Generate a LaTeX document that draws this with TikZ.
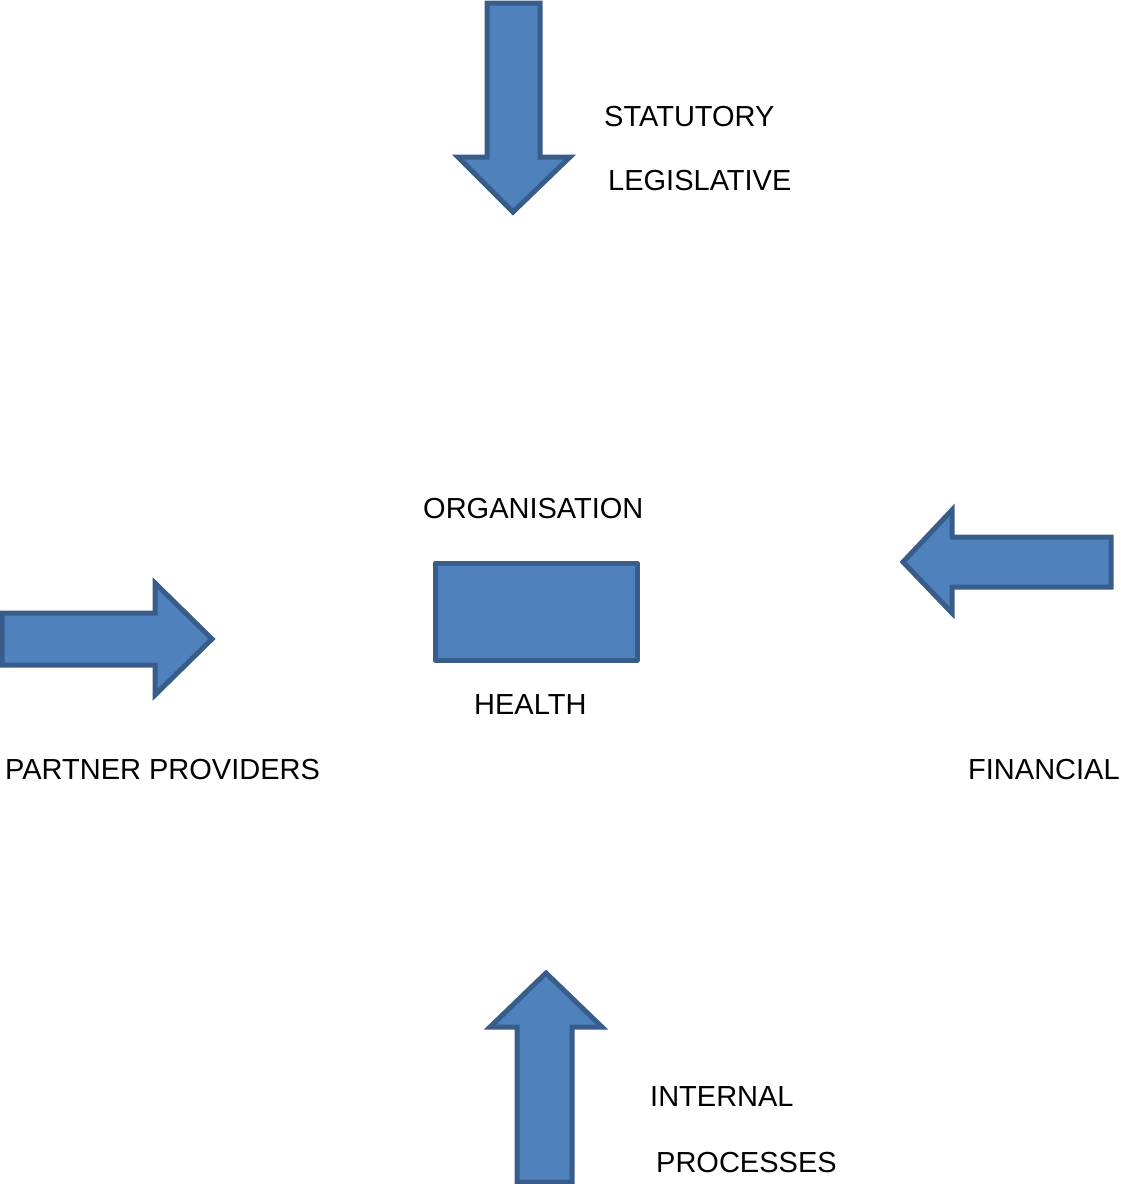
\documentclass[tikz,border=0pt]{standalone}
\usepackage{fontspec}
\setmainfont{Liberation Sans}
\definecolor{arrowfill}{HTML}{4F81BD}
\definecolor{arrowline}{HTML}{385D8A}

\begin{document}
\begin{tikzpicture}[x=1pt,y=-1pt,
  blockarrow/.style={draw=arrowline,fill=arrowfill,line width=5pt,line join=miter},
  every node/.style={anchor=west,inner sep=0pt,font=\fontsize{29}{33}\selectfont}]
	\useasboundingbox (0,0) rectangle (1120,1184);

	% arrows coming in from the four sides
	\draw[blockarrow] (487,3) -- (540,3) -- (540,157) -- (570,157) -- (513,212)
	      -- (458,157) -- (487,157) -- cycle;
	\draw[blockarrow] (2,613) -- (155,613) -- (155,583) -- (212,639) -- (155,695)
	      -- (155,665) -- (2,665) -- cycle;
	\draw[blockarrow] (1111,537) -- (952,537) -- (952,510) -- (903,562) -- (952,613)
	      -- (952,587) -- (1111,587) -- cycle;
	\draw[blockarrow] (517,1182) -- (517,1027) -- (490,1027) -- (546,973) -- (602,1027)
	      -- (572,1027) -- (572,1182) -- cycle;

	% the organisation in the middle
	\draw[blockarrow,line join=round] (435,563) rectangle (637,660);

	\node (nStat)  at (604,117)  {STATUTORY};
	\node (nLeg)   at (608,181)  {LEGISLATIVE};
	\node (nOrg)   at (423,509)  {ORGANISATION};
	\node (nHealth) at (474,705) {HEALTH};
	\node (nPart)  at (5,770)    {PARTNER PROVIDERS};
	\node (nFin)   at (968,770)  {FINANCIAL};
	\node (nInt)   at (650,1097) {INTERNAL};
	\node (nProc)  at (656,1163) {PROCESSES};
\end{tikzpicture}
\end{document}
